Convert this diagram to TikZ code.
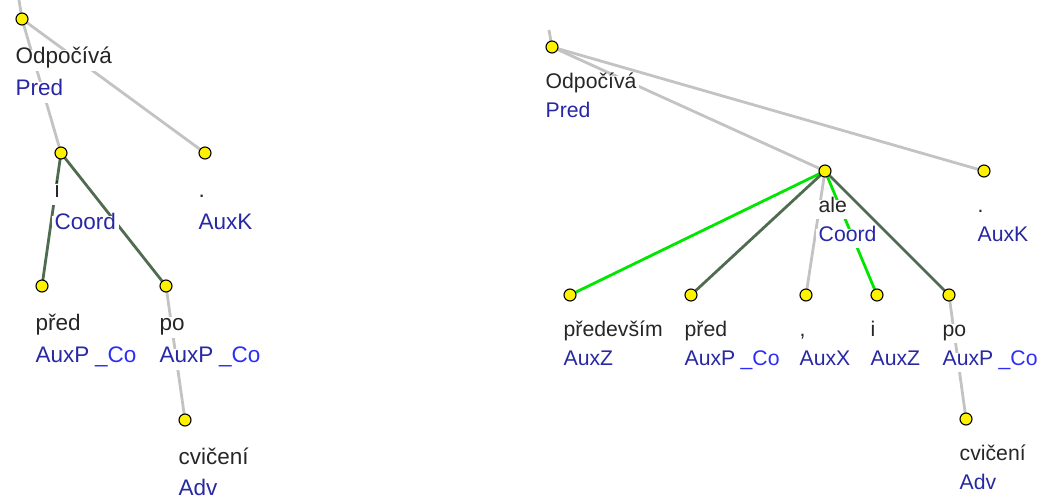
\documentclass[tikz,border=0pt]{standalone}
\usepackage{fontspec}
\setmainfont{Liberation Sans}
\usetikzlibrary{calc,backgrounds}
\definecolor{afunblue}{RGB}{40,40,165}
\definecolor{coblue}{RGB}{45,45,250}
\definecolor{edgegray}{RGB}{195,195,195}
\definecolor{coordgreen}{RGB}{80,108,80}
\definecolor{membgreen}{RGB}{0,230,0}
\newcommand\afun[1]{{\color{afunblue}{#1}}}
\newcommand\co{\hspace{0.25em}{\color{coblue}{\_Co}}}

\begin{document}
\begin{tikzpicture}[x=1pt, y=-1pt,
    dot/.style={circle, draw=black, fill=yellow, line width=1.1pt, minimum size=12pt, inner sep=0pt},
    word/.style={anchor=base west, fill=white, inner xsep=3pt, text height=0.78em, text depth=0.2em, text=black!85},
    plain/.style={edgegray, line width=2.8pt},
    coord/.style={coordgreen, line width=2.8pt},
    memb/.style={membgreen, line width=2.8pt},
    lefttext/.style={font=\fontsize{22.5}{22.5}\selectfont, inner ysep=5.5pt},
    righttext/.style={font=\fontsize{21.2}{21.2}\selectfont, inner ysep=4.6pt}]
  \useasboundingbox (0,0) rectangle (1037,498);

  % left tree
  \node [dot] (lroot) at (22,19) {};
  \node [dot] (li) at (61,153) {};
  \node [dot] (lK) at (205,153) {};
  \node [dot] (lpred) at (42,286) {};
  \node [dot] (lpo) at (166,286) {};
  \node [dot] (lcv) at (185,420) {};
  \coordinate (ltop) at (19,0);

  \begin{scope}[lefttext]
    \node [word] at ($(lroot)+(-9.5,44)$) {Odpočívá};
    \node [word] at ($(lroot)+(-9.5,76)$) {\afun{Pred}};
    \node [word] at ($(li)+(-9.5,44)$) {i};
    \node [word] at ($(li)+(-9.5,76)$) {\afun{Coord}};
    \node [word] at ($(lK)+(-9.5,44)$) {.};
    \node [word] at ($(lK)+(-9.5,76)$) {\afun{AuxK}};
    \node [word] at ($(lpred)+(-9.5,44)$) {před};
    \node [word] at ($(lpred)+(-9.5,76)$) {\afun{AuxP}\co};
    \node [word] at ($(lpo)+(-9.5,44)$) {po};
    \node [word] at ($(lpo)+(-9.5,76)$) {\afun{AuxP}\co};
    \node [word] at ($(lcv)+(-9.5,44)$) {cvičení};
    \node [word] at ($(lcv)+(-9.5,75)$) {\afun{Adv}};
  \end{scope}

  % right tree
  \node [dot] (rroot) at (552,47) {};
  \node [dot] (rale) at (825,171) {};
  \node [dot] (rK) at (984,171) {};
  \node [dot] (rprv) at (570,295) {};
  \node [dot] (rpred) at (691,295) {};
  \node [dot] (rcom) at (806,295) {};
  \node [dot] (ri) at (877,295) {};
  \node [dot] (rpo) at (949,295) {};
  \node [dot] (rcv) at (966,419) {};
  \coordinate (rtop) at (549,30);

  \begin{scope}[righttext]
    \node [word] at ($(rroot)+(-9.5,41)$) {Odpočívá};
    \node [word] at ($(rroot)+(-9.5,70)$) {\afun{Pred}};
    \node [word] at ($(rale)+(-9.5,41)$) {ale};
    \node [word] at ($(rale)+(-9.5,70)$) {\afun{Coord}};
    \node [word] at ($(rK)+(-9.5,41)$) {.};
    \node [word] at ($(rK)+(-9.5,70)$) {\afun{AuxK}};
    \node [word] at ($(rprv)+(-9.5,41)$) {především};
    \node [word] at ($(rprv)+(-9.5,70)$) {\afun{AuxZ}};
    \node [word] at ($(rpred)+(-9.5,41)$) {před};
    \node [word] at ($(rpred)+(-9.5,70)$) {\afun{AuxP}\co};
    \node [word] at ($(rcom)+(-9.5,41)$) {,};
    \node [word] at ($(rcom)+(-9.5,70)$) {\afun{AuxX}};
    \node [word] at ($(ri)+(-9.5,41)$) {i};
    \node [word] at ($(ri)+(-9.5,70)$) {\afun{AuxZ}};
    \node [word] at ($(rpo)+(-9.5,41)$) {po};
    \node [word] at ($(rpo)+(-9.5,70)$) {\afun{AuxP}\co};
    \node [word] at ($(rcv)+(-9.5,41)$) {cvičení};
    \node [word] at ($(rcv)+(-9.5,70)$) {\afun{Adv}};
  \end{scope}

  % edges go under the labels and dots
  \begin{pgfonlayer}{background}
    \draw [plain] (ltop) -- (lroot.center);
    \draw [plain] (lroot.center) -- (li.center);
    \draw [plain] (lroot.center) -- (lK.center);
    \draw [coord] (li.center) -- (lpred.center);
    \draw [coord] (li.center) -- (lpo.center);
    \draw [plain] (lpo.center) -- (lcv.center);

    \draw [plain] (rtop) -- (rroot.center);
    \draw [plain] (rroot.center) -- (rale.center);
    \draw [plain] (rroot.center) -- (rK.center);
    \draw [memb] (rale.center) -- (rprv.center);
    \draw [coord] (rale.center) -- (rpred.center);
    \draw [plain] (rale.center) -- (rcom.center);
    \draw [memb] (rale.center) -- (ri.center);
    \draw [coord] (rale.center) -- (rpo.center);
    \draw [plain] (rpo.center) -- (rcv.center);
  \end{pgfonlayer}
\end{tikzpicture}
\end{document}
